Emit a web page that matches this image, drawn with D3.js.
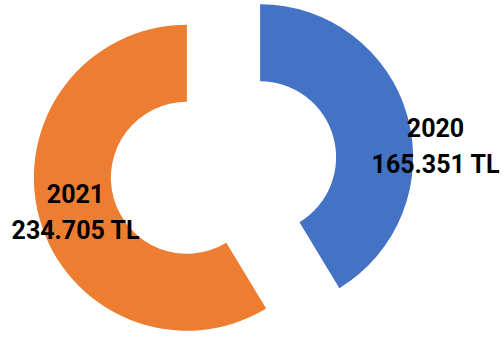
<!DOCTYPE html>
<html>
<head>
<meta charset="utf-8">
<script src="https://cdn.jsdelivr.net/npm/d3@7"></script>
<style>
  html, body { margin: 0; padding: 0; background: #fff; }
  svg { display: block; }
  .lbl { font-family: Roboto, "Liberation Sans", sans-serif; font-weight: bold; font-size: 25px; fill: #000; }
</style>
</head>
<body>
<svg width="503" height="338"></svg>
<script>
"use strict";

var years = ["2020", "2021"],
  amounts = [165351, 234705],
  valueLabels = ["165.351 TL", "234.705 TL"],
  colors = ["#4472C4", "#ED7D31"]
;

var svg = d3.select("svg"),
  cx = 223.5,
  cy = 167.5,
  outerR = 153,
  innerR = 76,
  explode = 38
;

var data = years.map(function(y, i) {
  return { year: y, value: amounts[i], label: valueLabels[i], color: colors[i] };
});

var pie = d3.pie().sort(null).value(function(d) { return d.value; }),
  arc = d3.arc().innerRadius(innerR).outerRadius(outerR)
;

var arcs = pie(data);

// offset of each slice along its mid angle
function shift(d, dist) {
  let a = (d.startAngle + d.endAngle) / 2;
  return [Math.sin(a) * dist, -Math.cos(a) * dist];
}

let g = svg.append("g").attr("transform", "translate(" + cx + "," + cy + ")");

g.selectAll(".slice")
  .data(arcs)
  .enter().append("path")
    .attr("class", "slice")
    .attr("transform", function(d) { let o = shift(d, explode); return "translate(" + o[0] + "," + o[1] + ")"; })
    .attr("d", arc)
    .attr("fill", function(d) { return d.data.color; });

// data labels, pushed out past the ring like Excel does
let labelOffsets = [[212, -29.5], [-148, 36.5]];

let lbl = g.selectAll(".lblg")
  .data(arcs)
  .enter().append("g")
    .attr("transform", function(d, i) { return "translate(" + labelOffsets[i][0] + "," + labelOffsets[i][1] + ")"; });

lbl.append("text")
  .attr("class", "lbl")
  .attr("text-anchor", "middle")
  .attr("y", -1)
  .text(function(d) { return d.data.year; });

lbl.append("text")
  .attr("class", "lbl")
  .attr("text-anchor", "middle")
  .attr("y", 35)
  .text(function(d) { return d.data.label; });
</script>
</body>
</html>
